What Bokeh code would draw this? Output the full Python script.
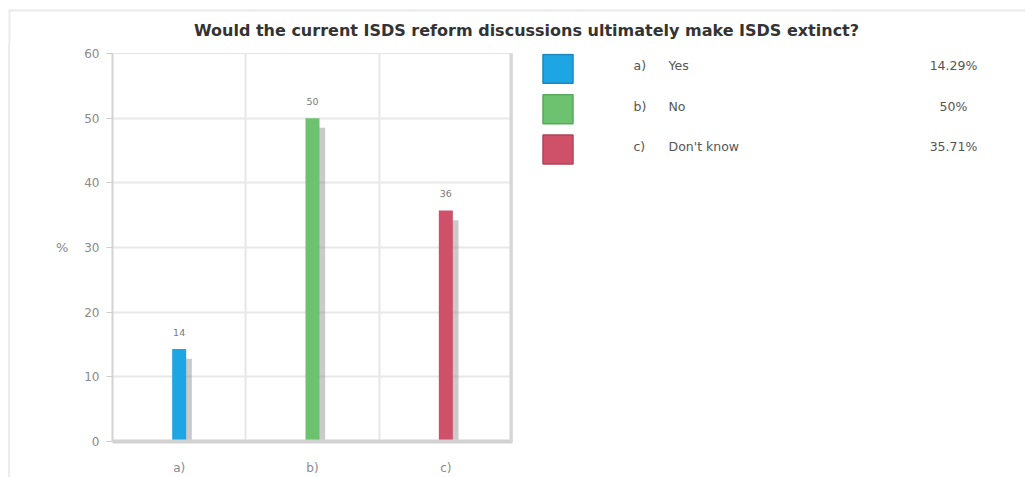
from bokeh.plotting import figure
from bokeh.layouts import column, row
from bokeh.models import Range1d, FixedTicker, Span, ColumnDataSource
from bokeh.core.properties import value
from bokeh.embed import file_html
from bokeh.resources import INLINE

# Survey answers
title_text = "Would the current ISDS reform discussions ultimately make ISDS extinct?"
categories = ["a)", "b)", "c)"]
answers = ["Yes", "No", "Don't know"]
shares = [14.29, 50, 35.71]
colors = ["#1ea5e4", "#6cc26e", "#cf5069"]
edge_colors = ["#1b87bd", "#58a95b", "#b0435a"]
y_ticks = [0, 10, 20, 30, 40, 50, 60]

FONT_NAME = "DejaVu Sans"
FONT = value(FONT_NAME)
TOTAL_W, TOTAL_H = 1025, 477
HEAD_H = 44
BODY_H = TOTAL_H - HEAD_H
LEFT = 10            # body starts after the panel edge
SPLIT = 520          # where the legend panel begins
FRAME_TOP, FRAME_BOTTOM = 53, 443   # page rows of the plot frame
BORDER_TOP = FRAME_TOP - HEAD_H
BORDER_BOTTOM = TOTAL_H - FRAME_BOTTOM


def bare(fig):
    fig.axis.visible = False
    fig.grid.visible = False
    fig.outline_line_color = None
    fig.min_border = 0
    fig.min_border_left = 0
    fig.min_border_right = 0
    fig.min_border_top = 0
    fig.min_border_bottom = 0
    return fig


# ---- header with title and the faint panel edge ----
head = bare(figure(width=TOTAL_W, height=HEAD_H, title=None,
                   x_range=Range1d(0, TOTAL_W), y_range=Range1d(HEAD_H, 0),
                   toolbar_location=None, output_backend="svg"))
head.segment(x0=[8], y0=[10], x1=[TOTAL_W], y1=[10], line_color="#e9e9e9", line_width=2)
head.segment(x0=[9], y0=[10], x1=[9], y1=[HEAD_H], line_color="#ececec", line_width=2)
head.text(x=[526], y=[30], text=[title_text], text_font=FONT, text_font_style="bold",
          text_font_size="16px", text_color="#333333", text_align="center",
          text_baseline="middle")

# ---- bar chart ----
xs = [i + 0.5 for i in range(len(categories))]
src = ColumnDataSource(dict(
    x=xs,
    top=shares,
    shadow_x=[x + 0.045 for x in xs],
    shadow_top=[v - 1.5 for v in shares],
    color=colors,
    label=[f"{round(v)}" for v in shares],
))

p = figure(width=SPLIT - LEFT, height=BODY_H, title=None,
           x_range=Range1d(0, len(categories)), y_range=Range1d(0, 60),
           toolbar_location=None, output_backend="svg")
p.min_border_left = 112 - LEFT
p.min_border_right = 8
p.min_border_top = BORDER_TOP
p.min_border_bottom = BORDER_BOTTOM
p.outline_line_color = "#e4e4e4"
p.background_fill_color = "white"

p.vbar(x="shadow_x", top="shadow_top", bottom=0, width=0.1, source=src,
       fill_color="#8a8a8a", fill_alpha=0.45, line_color=None)
p.vbar(x="x", top="top", bottom=0, width=0.105, source=src,
       fill_color="color", line_color=None)
p.text(x="x", y="top", text="label", source=src, text_font=FONT,
       text_font_size="9.5px", text_color="#7a7a7a", text_align="center",
       text_baseline="middle", y_offset=-17)

p.add_layout(Span(location=len(categories), dimension="height",
                  line_color="#d6d6d6", line_width=6))

# y axis
p.yaxis.ticker = FixedTicker(ticks=y_ticks)
p.yaxis.axis_label = "%"
p.yaxis.axis_label_orientation = "horizontal"
p.yaxis.axis_label_standoff = 13
p.yaxis.axis_label_text_font = FONT_NAME
p.yaxis.axis_label_text_font_style = "normal"
p.yaxis.axis_label_text_font_size = "13px"
p.yaxis.axis_label_text_color = "#888888"
p.yaxis.major_label_text_font = FONT_NAME
p.yaxis.major_label_text_font_size = "12px"
p.yaxis.major_label_text_color = "#8a8a8a"
p.yaxis.major_label_standoff = 7
p.yaxis.major_tick_out = 6
p.yaxis.major_tick_in = 0
p.yaxis.major_tick_line_color = "#cccccc"
p.yaxis.minor_tick_line_color = None
p.yaxis.axis_line_color = "#d4d4d4"
p.yaxis.axis_line_width = 2

# x axis
p.xaxis.ticker = FixedTicker(ticks=xs)
p.xaxis.major_label_overrides = {x: c for x, c in zip(xs, categories)}
p.xaxis.major_label_text_font = FONT_NAME
p.xaxis.major_label_text_font_size = "12px"
p.xaxis.major_label_text_color = "#8a8a8a"
p.xaxis.major_label_standoff = 19
p.xaxis.major_tick_out = 0
p.xaxis.major_tick_in = 0
p.xaxis.minor_tick_line_color = None
p.xaxis.axis_line_color = "#d2d2d2"
p.xaxis.axis_line_width = 4

# grid
p.xgrid.ticker = FixedTicker(ticks=list(range(1, len(categories))))
p.xgrid.grid_line_color = "#e6e6e6"
p.xgrid.grid_line_width = 2
p.ygrid.ticker = FixedTicker(ticks=y_ticks[1:])
p.ygrid.grid_line_color = "#e8e8e8"
p.ygrid.grid_line_width = 2

# ---- legend panel (frame shares the chart's vertical extent) ----
side = bare(figure(width=TOTAL_W - SPLIT, height=BODY_H, title=None,
                   x_range=Range1d(SPLIT, TOTAL_W),
                   y_range=Range1d(FRAME_BOTTOM, FRAME_TOP),
                   toolbar_location=None, output_backend="svg"))
side.min_border_top = BORDER_TOP
side.min_border_bottom = BORDER_BOTTOM
row_y = [68.5 + 40.5 * i for i in range(len(categories))]
leg = ColumnDataSource(dict(
    y=row_y,
    color=colors,
    edge=edge_colors,
    letter=categories,
    answer=answers,
    pct=[f"{v:g}%" for v in shares],
))
side.rect(x=557.5, y="y", width=30, height=29, source=leg, fill_color="color",
          line_color="edge", line_width=1.5)
side.text(x=633, y="y", text="letter", source=leg, text_font=FONT,
          text_font_size="12.5px", text_color="#555555", text_baseline="middle",
          y_offset=-3)
side.text(x=668, y="y", text="answer", source=leg, text_font=FONT,
          text_font_size="12.5px", text_color="#555555", text_baseline="middle",
          y_offset=-3)
side.text(x=953, y="y", text="pct", source=leg, text_font=FONT,
          text_font_size="12.5px", text_color="#555555", text_align="center",
          text_baseline="middle", y_offset=-3)

body = row(p, side, styles={"margin-left": "8px", "border-left": "2px solid #ececec"})
layout = column(head, body)
open("out.html", "w").write(file_html(layout, INLINE))
